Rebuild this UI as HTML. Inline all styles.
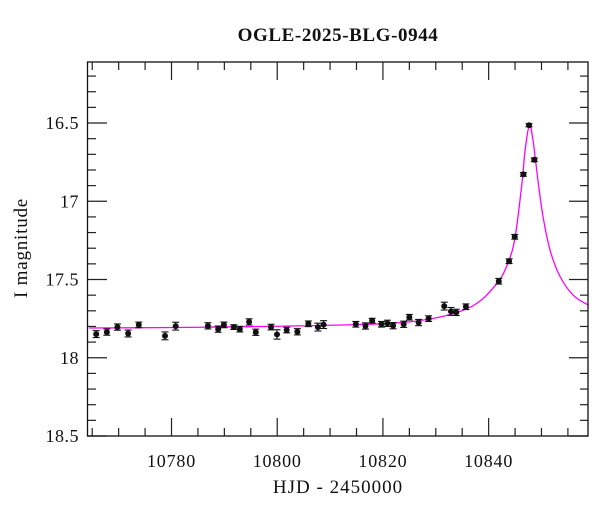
<!DOCTYPE html>
<html><head><meta charset="utf-8"><style>
html,body{margin:0;padding:0;background:#fff;}
svg{display:block;font-family:"Liberation Serif",serif;}
</style></head><body>
<svg id="chart" width="600" height="512" viewBox="0 0 600 512" xmlns="http://www.w3.org/2000/svg">
<text x="338" y="41" text-anchor="middle" font-size="19" font-weight="bold" letter-spacing="0.6" fill="#111">OGLE-2025-BLG-0944</text>
<text x="338" y="493" text-anchor="middle" font-size="19" letter-spacing="1" fill="#111">HJD - 2450000</text>
<text transform="translate(27,248) rotate(-90)" text-anchor="middle" font-size="19" letter-spacing="0.8" fill="#111">I magnitude</text>
<g id="ticks"></g>
<g id="curve"></g>
<g id="points"></g>
<rect x="87.5" y="62" width="500.5" height="374" fill="none" stroke="#111" stroke-width="1.3"/>
</svg>
<script>
const times=[10765.75,10767.77,10769.77,10771.79,10773.81,10778.77,10780.79,10786.89,10788.83,10789.91,10791.79,10792.92,10794.68,10795.94,10798.83,10799.96,10801.79,10803.81,10805.89,10807.70,10808.77,10814.87,10816.70,10817.96,10819.72,10820.85,10821.92,10823.92,10825.0,10826.75,10828.64,10831.60,10832.87,10833.87,10835.70,10841.92,10843.87,10844.94,10846.57,10847.64,10848.64];
const mags=[17.849,17.836,17.804,17.845,17.790,17.860,17.798,17.796,17.817,17.790,17.804,17.817,17.771,17.837,17.804,17.851,17.823,17.834,17.783,17.804,17.788,17.786,17.797,17.763,17.786,17.780,17.795,17.786,17.741,17.775,17.750,17.670,17.704,17.710,17.674,17.511,17.383,17.227,16.828,16.514,16.735];
const errs=[0.022,0.02,0.02,0.022,0.018,0.025,0.025,0.02,0.02,0.018,0.015,0.018,0.02,0.02,0.018,0.03,0.018,0.02,0.018,0.025,0.025,0.018,0.02,0.015,0.018,0.02,0.02,0.02,0.018,0.02,0.018,0.025,0.025,0.02,0.018,0.018,0.015,0.015,0.012,0.01,0.012];
const modelTimes=[10764.4,10785.6,10812.9,10827.1,10836.5,10841.5,10843.7,10845.0,10846.3,10846.9,10847.7,10848.4,10849.4,10850.3,10851.6,10853.5,10856.0,10858.8];
const modelMags=[17.81,17.805,17.79,17.762,17.677,17.528,17.39,17.23,16.886,16.674,16.515,16.612,16.886,17.10,17.31,17.48,17.60,17.663];
const xTickLabels=[10780,10800,10820,10840];
const yTickLabels=["16.5","17","17.5","18","18.5"];
const X0=88,X1=588,Y0=62,Y1=436;
const tMin=10764.2,tMax=10858.8,mMin=16.11,mMax=18.5;
const xs=t=>X0+(t-tMin)/(tMax-tMin)*(X1-X0);
const ys=m=>Y0+(m-mMin)/(mMax-mMin)*(Y1-Y0);
const NS="http://www.w3.org/2000/svg";
function mk(tag,attrs,parent){const e=document.createElementNS(NS,tag);for(const k in attrs)e.setAttribute(k,attrs[k]);parent.appendChild(e);return e;}
const tg=document.getElementById('ticks');
for(let t=10765;t<=10858;t+=5){
  const x=xs(t);const major=(t%20===0);const L=major?18:8;
  const a=mk('line',{x1:x,y1:Y1,x2:x,y2:Y1-L,stroke:'#222','stroke-width':1.2},tg);
  
  
  const b=mk('line',{x1:x,y1:Y0,x2:x,y2:Y0+L,stroke:'#222','stroke-width':1.2},tg);
  
  
}
xTickLabels.forEach(v=>{
  const t=mk('text',{x:xs(v),y:Y1+31,'text-anchor':'middle','font-size':18,'letter-spacing':0.8,fill:'#111'},tg);
  
  
  t.textContent=v;
});
for(let i=2;i<=25;i++){
  const m=16+i*0.1;const y=ys(m);const major=(i%5===0);const L=major?19:8;
  const a=mk('line',{x1:X0,y1:y,x2:X0+L,y2:y,stroke:'#222','stroke-width':1.2},tg);
  
  
  const b=mk('line',{x1:X1,y1:y,x2:X1-L,y2:y,stroke:'#222','stroke-width':1.2},tg);
  
  
}
yTickLabels.forEach(s=>{
  const t=mk('text',{x:79,y:ys(parseFloat(s))+6,'text-anchor':'end','font-size':18,'letter-spacing':0.5,fill:'#111'},tg);
  
  
  t.textContent=s;
});
const pts=modelTimes.map((t,i)=>[xs(t),ys(modelMags[i])]);
let d='M'+pts[0][0]+','+pts[0][1];
for(let i=0;i<pts.length-1;i++){
  const p0=pts[Math.max(0,i-1)],p1=pts[i],p2=pts[i+1],p3=pts[Math.min(pts.length-1,i+2)];
  const c1=[p1[0]+(p2[0]-p0[0])/6,p1[1]+(p2[1]-p0[1])/6];
  const c2=[p2[0]-(p3[0]-p1[0])/6,p2[1]-(p3[1]-p1[1])/6];
  d+=' C'+c1[0]+','+c1[1]+' '+c2[0]+','+c2[1]+' '+p2[0]+','+p2[1];
}
const cv=mk('path',{d:d,fill:'none',stroke:'#ff00ff','stroke-width':1.3},document.getElementById('curve'));


const pg=document.getElementById('points');
times.forEach((t,i)=>{
  const x=xs(t),y=ys(mags[i]),ya=ys(mags[i]-errs[i]),yb=ys(mags[i]+errs[i]);
  const g=mk('g',{},pg);
  
  
  mk('line',{x1:x,y1:ya,x2:x,y2:yb,stroke:'#111','stroke-width':1.1},g);
  mk('line',{x1:x-3.5,y1:ya,x2:x+3.5,y2:ya,stroke:'#111','stroke-width':1.1},g);
  mk('line',{x1:x-3.5,y1:yb,x2:x+3.5,y2:yb,stroke:'#111','stroke-width':1.1},g);
  mk('circle',{cx:x,cy:y,r:3,fill:'#111'},g);
});
</script>
</body></html>
